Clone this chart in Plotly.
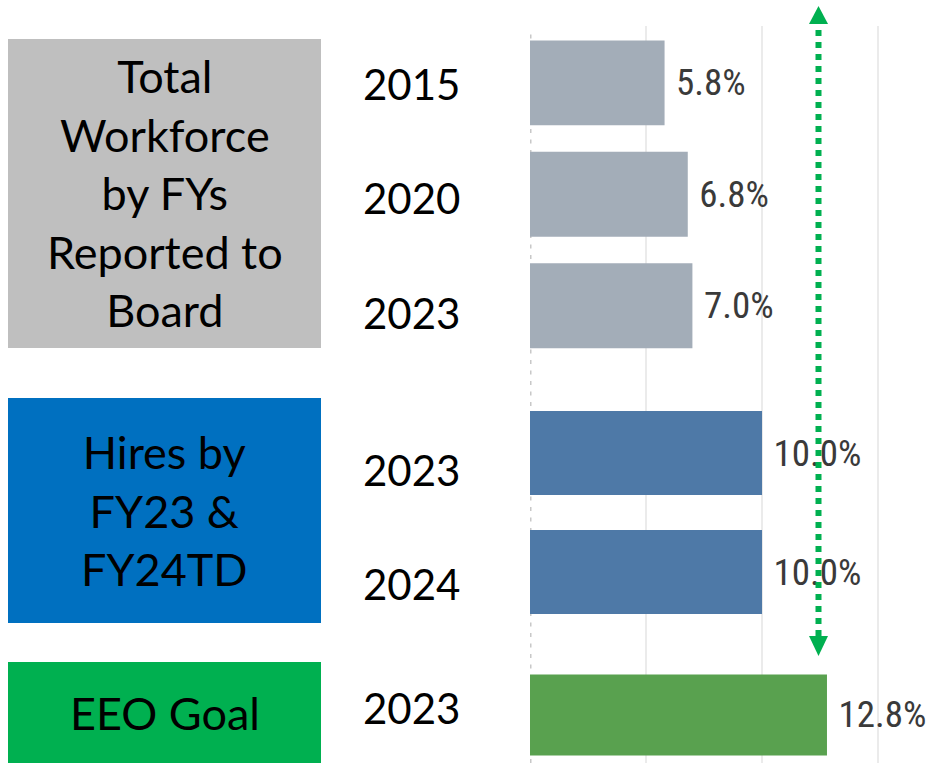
import plotly.graph_objects as go

# data
wf_years = ["2015", "2020", "2023"]
wf_values = [5.8, 6.8, 7.0]
hire_years = ["2023", "2024"]
hire_values = [10.0, 10.0]
goal_years = ["2023"]
goal_values = [12.8]

group_labels = ["Total<br>Workforce<br>by FYs<br>Reported to<br>Board",
                "Hires by<br>FY23 &<br>FY24TD",
                "EEO Goal"]

W, H = 930, 763
L = 530  # left margin in px, plot area starts where bars start


def px(x):
    return (x - L) / (W - L)


def py(y):
    return 1 - y / H


GRAY, BLUE, GREEN = "#A3ADB8", "#4E79A7", "#59A14F"
VAL_FONT = dict(family="Liberation Sans Narrow, Roboto Condensed, Arial Narrow, sans-serif",
                size=37, color="#3A3A3A")
LBL_FONT = dict(family="Lato, Carlito, Calibri, sans-serif", size=42, color="black")
BOX_FONT = dict(family="Lato, Carlito, Calibri, sans-serif", size=45, color="black")

fig = go.Figure()
groups = [
    (wf_years, wf_values, GRAY, "y", 0.762),
    (hire_years, hire_values, BLUE, "y2", 0.706),
    (goal_years, goal_values, GREEN, "y3", 0.68),
]
for yrs, vals, col, ax, bw in groups:
    fig.add_trace(go.Bar(
        y=yrs, x=vals, orientation="h", yaxis=ax, xaxis="x",
        marker=dict(color=col, line=dict(width=0)), width=bw,
        texttemplate="\u00a0%{x:.1f}%", textposition="outside",
        textfont=VAL_FONT, cliponaxis=False, constraintext="none",
        showlegend=False, hoverinfo="skip",
    ))

yax = dict(type="category", showgrid=False, zeroline=False, showticklabels=False,
           showline=False, ticks="", anchor="x")
fig.update_layout(
    width=W, height=H,
    margin=dict(l=L, r=0, t=0, b=0),
    paper_bgcolor="white", plot_bgcolor="white",
    xaxis=dict(range=[0, 17.24], tickvals=[5, 10, 15], showticklabels=False,
               showgrid=True, gridcolor="#EBEBEB", gridwidth=2, zeroline=False,
               showline=False, anchor="y"),
    yaxis=dict(yax, domain=[py(392), py(26)], range=[2.773, -0.51]),
    yaxis2=dict(yax, domain=[py(645), py(392)], range=[1.613, -0.513]),
    yaxis3=dict(yax, domain=[0, py(645)], range=[0.404, -0.588]),
)

# colored group boxes on the left
boxes = [(39, 348, "#BFBFBF"), (398, 623, "#0070C0"), (662, 763, "#00B050")]
shapes = []
for (top, bot, col), txt in zip(boxes, group_labels):
    shapes.append(dict(type="rect", xref="paper", yref="paper",
                       x0=px(8), x1=px(321), y0=py(bot), y1=py(top),
                       fillcolor=col, line=dict(width=0), layer="below"))
    fig.add_annotation(x=px(164.5), y=py((top + bot) / 2), xref="paper", yref="paper",
                       xanchor="center", yanchor="middle",
                       text=txt, showarrow=False, font=BOX_FONT, align="center")

# year labels next to each bar (placed on the category axis by index)
nudges = [[-1, -4, -7], [-17, -12], [7]]
for (yrs, vals, col, ax, bw), nd in zip(groups, nudges):
    for i, (yr, n) in enumerate(zip(yrs, nd)):
        fig.add_annotation(x=px(462), y=i, xref="paper", yref=ax, text=yr,
                           xanchor="right", yanchor="middle", showarrow=False,
                           font=LBL_FONT, yshift=n)

# dotted axis line at zero
shapes.append(dict(type="line", xref="x", yref="paper", x0=0, x1=0,
                   y0=0, y1=py(28), line=dict(color="#C8C8C8", width=3, dash="4px,6.5px"),
                   layer="below"))

# green dotted double arrow
ax_x = 818.5
shapes.append(dict(type="line", xref="paper", yref="paper", x0=px(ax_x), x1=px(ax_x),
                   y0=py(636), y1=py(24), line=dict(color="#00B050", width=6, dash="6px,6px")))
shapes.append(dict(type="path", xref="paper", yref="paper",
                   path=f"M {px(809)} {py(24)} L {px(828)} {py(24)} L {px(ax_x)} {py(6)} Z",
                   fillcolor="#00B050", line=dict(width=0)))
shapes.append(dict(type="path", xref="paper", yref="paper",
                   path=f"M {px(809)} {py(636)} L {px(828)} {py(636)} L {px(ax_x)} {py(656)} Z",
                   fillcolor="#00B050", line=dict(width=0)))
fig.update_layout(shapes=shapes)

fig.write_html("out.html", config={"displayModeBar": False},
               post_script="document.body.style.margin='0';")
